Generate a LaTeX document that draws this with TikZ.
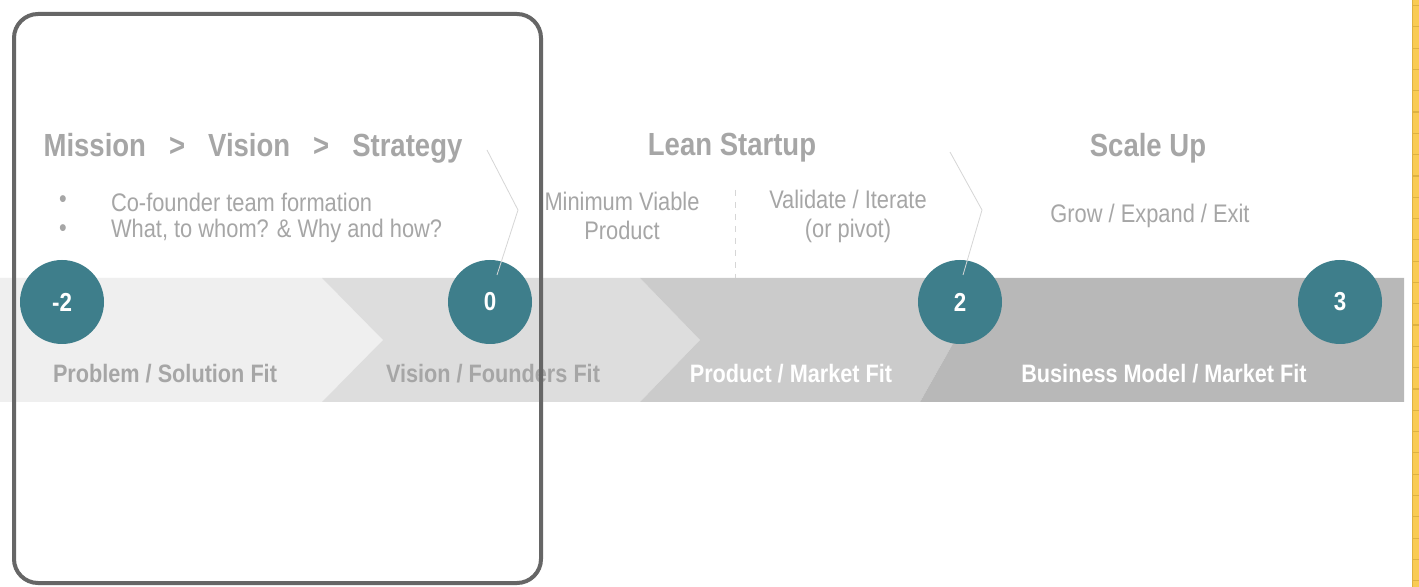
\documentclass[tikz,border=0pt]{standalone}
\usepackage{fontspec}
\setmainfont{Liberation Sans}
\newfontfamily\narrowsf[FakeStretch=0.86]{Liberation Sans}

\definecolor{txtgrey}{RGB}{166,166,166}
\definecolor{segA}{RGB}{239,239,239}
\definecolor{segB}{RGB}{221,221,221}
\definecolor{segC}{RGB}{203,203,203}
\definecolor{segD}{RGB}{184,184,184}
\definecolor{dotteal}{RGB}{62,126,139}
\definecolor{framegrey}{RGB}{102,102,102}
\definecolor{thinline}{RGB}{214,214,214}
\definecolor{padyellow}{RGB}{249,203,84}
\definecolor{padline}{RGB}{222,178,66}

\newcommand{\gtgap}{\hspace{11.5pt}>\hspace{11.5pt}}

\tikzset{
  heading/.style={font=\narrowsf\bfseries\fontsize{16}{19}\selectfont},
  note/.style={font=\narrowsf\fontsize{12.7}{14.5}\selectfont},
  fitlabel/.style={font=\narrowsf\bfseries\fontsize{12.6}{14}\selectfont},
  numdot/.style={circle, fill=dotteal, minimum size=42pt, inner sep=0pt,
    text=white, font=\narrowsf\bfseries\fontsize{13}{15}\selectfont}
}

\begin{document}
\begin{tikzpicture}[x=0.5pt, y=-0.5pt, every node/.style={align=center, text=txtgrey}]

\useasboundingbox (0,0) rectangle (1419,587);
\fill[white] (0,0) rectangle (1419,587);

% band ---
\fill[segA] (0,278) -- (322,278) -- (383,340) -- (322,402) -- (0,402) -- cycle;
\fill[segB] (322,278) -- (640,278) -- (700,340) -- (640,402) -- (322,402) -- (383,340) -- cycle;
\fill[segC] (640,278) -- (990,278) -- (920,402) -- (640,402) -- (700,340) -- cycle;
\fill[segD] (990,278) -- (1404,278) -- (1404,402) -- (920,402) -- cycle;

% stage markers
\node[numdot] (m-2) at (62,302) {-2};
\node[numdot] (m0) at (490,302) {0};
\node[numdot] (m2) at (960,302) {2};
\node[numdot] (m3) at (1340,302) {3};

\node[fitlabel] (problem) at (165,374) {Problem / Solution Fit};
\node[fitlabel] (vision) at (493,374) {Vision / Founders Fit};
\node[fitlabel, text=white] (product) at (791,374) {Product / Market Fit};
\node[fitlabel, text=white] (business) at (1164,374) {Business Model / Market Fit};

% headings ---
\node[heading] (mission) at (253,148) {Mission\gtgap Vision\gtgap Strategy};
\node[heading] (lean) at (732,148) {Lean Startup};
\node[heading] (scale) at (1148,148) {Scale Up};

\node[note] (dot1) at (63,202) {\textbullet};
\node[note] (dot2) at (63,231) {\textbullet};
\node[note, anchor=west] (cofounder) at (104,202) {Co-founder team formation};
\node[note, anchor=west] (whatwhom) at (104,231) {What, to whom? \& Why and how?};

\node[note] (mvp) at (622,216) {Minimum Viable\\Product};
\node[note] (validate) at (848,216) {Validate / Iterate\\(or pivot)};
\node[note] (grow) at (1150,216) {Grow / Expand / Exit};

\draw[thinline, dash pattern=on 3pt off 3pt] (735,190) -- (735,278);
\draw[thinline] (487,150) -- (518,210) -- (497,275);
\draw[thinline] (950,152) -- (982,210) -- (963,275);

% frame and page edge
\draw[framegrey, line width=2pt, rounded corners=12pt] (14,14) rectangle (541,583);

\fill[padyellow] (1412,0) rectangle (1419,587);
\foreach \y in {5.6,26.9,...,587}
  \draw[padline, line width=0.6pt] (1412,\y) -- (1419,\y);
\draw[padline, line width=0.4pt] (1412,0) -- (1412,587);

\end{tikzpicture}
\end{document}
